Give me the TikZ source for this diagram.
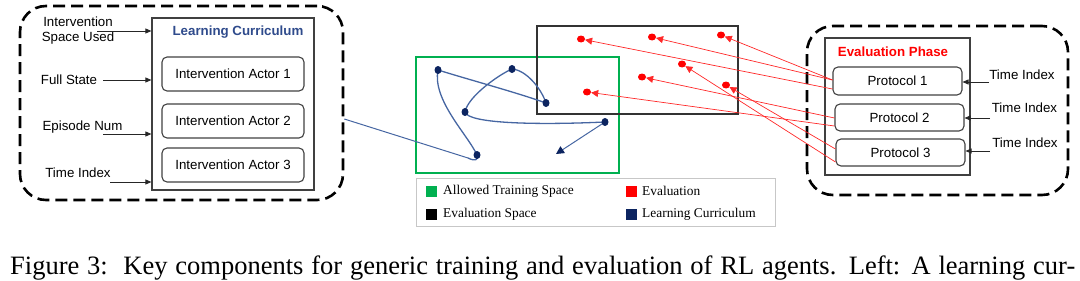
\documentclass[tikz,border=0pt]{standalone}
\usepackage{fontspec}
\setmainfont{Liberation Sans}
\newfontfamily\seriffont{Liberation Serif}
\usetikzlibrary{arrows.meta,shapes.geometric}
\definecolor{curblue}{RGB}{70,102,162}
\definecolor{navy}{RGB}{12,36,96}
\definecolor{titleblue}{RGB}{47,75,140}
\definecolor{trgreen}{RGB}{0,176,80}
\definecolor{evred}{RGB}{255,40,40}
\begin{document}
\begin{tikzpicture}[x=1pt,y=-1pt,
  dashbox/.style={draw=black, line width=2.6pt, dash pattern=on 12pt off 6pt, rounded corners=26pt, inner sep=0pt},
  panel/.style={draw=black!75, line width=1.2pt, inner sep=0pt},
  lab/.style={font=\fontsize{13.3}{15.5}\selectfont, inner sep=0pt},
  actor/.style={draw=black!75, line width=1.1pt, rounded corners=5pt, inner sep=0pt, font=\fontsize{13.3}{15.5}\selectfont},
  inarrow/.style={-{Triangle[length=6pt,width=5pt]}, line width=0.8pt, black!85},
  redarrow/.style={evred, line width=0.7pt, -{Triangle[length=7pt,width=7pt]}},
  reddot/.style={ellipse, fill=red, inner sep=0pt, minimum width=8pt, minimum height=7pt},
  bluedot/.style={ellipse, fill=navy, inner sep=0pt, minimum width=7pt, minimum height=8pt},
  curve/.style={curblue, line width=1.3pt},
  legsq/.style={inner sep=0pt, minimum size=11pt},
  legtxt/.style={anchor=west, inner sep=0pt, font=\seriffont\fontsize{13.4}{15}\selectfont}]
\useasboundingbox (0,0) rectangle (1080,281);

% ---------- left part ----------
\node[dashbox, minimum width=323pt, minimum height=194pt] (lbox) at (181.5,103) {};
\node[panel, minimum width=162pt, minimum height=172pt] (lc) at (233,104) {};
\node[lab, font=\bfseries\fontsize{13.3}{15.5}\selectfont, text=titleblue] (lct) at (238,32) {Learning Curriculum};
\node[actor, minimum width=142pt, minimum height=34pt] (a1) at (233,74) {Intervention Actor 1};
\node[actor, minimum width=142pt, minimum height=34pt] (a2) at (233,121) {Intervention Actor 2};
\node[actor, minimum width=142pt, minimum height=34pt] (a3) at (233,165) {Intervention Actor 3};

\node[lab, align=center] (isu) at (78,30.5) {Intervention\\Space Used};
\node[lab] (fs) at (69,80) {Full State};
\node[lab] (en) at (82.5,127) {Episode Num};
\node[lab] (ti) at (78,173) {Time Index};

\coordinate (s1) at (97,31);
\coordinate (s2) at (103,80);
\coordinate (s3) at (103,134);
\coordinate (s4) at (110,182);
\draw[inarrow] (s1) -- (lc.west |- s1);
\draw[inarrow] (s2) -- (lc.west |- s2);
\draw[inarrow] (s3) -- (lc.west |- s3);
\draw[inarrow] (s4) -- (lc.west |- s4);

% ---------- right part ----------
\node[dashbox, minimum width=261pt, minimum height=169pt] (rbox) at (937.5,110.5) {};
\node[panel, minimum width=145pt, minimum height=137pt] (ev) at (897.5,106.5) {};
\node[lab, font=\bfseries\fontsize{13.3}{15.5}\selectfont, text=red] (evt) at (893,52) {Evaluation Phase};
\node[actor, minimum width=129pt, minimum height=28pt] (pr1) at (897.5,81) {Protocol 1};
\node[actor, minimum width=129pt, minimum height=27pt] (pr2) at (899.5,117.5) {Protocol 2};
\node[actor, minimum width=129pt, minimum height=27pt] (pr3) at (900.5,152.5) {Protocol 3};

\node[lab] (t1) at (1022,75) {Time Index};
\node[lab] (t2) at (1024.5,108) {Time Index};
\node[lab] (t3) at (1025,143) {Time Index};
\coordinate (e1) at (989,82);
\coordinate (e2) at (990,118);
\coordinate (e3) at (990,151);
\draw[inarrow] (e1) -- (pr1.east |- e1);
\draw[inarrow] (e2) -- (pr2.east |- e2);
\draw[inarrow] (e3) -- (pr3.east |- e3);

% ---------- middle ----------
\node[draw=trgreen, line width=1.3pt, inner sep=0pt, minimum width=203pt, minimum height=116pt] (gbox) at (517.5,115) {};
\node[draw=black!80, line width=1.5pt, inner sep=0pt, minimum width=201pt, minimum height=88pt] (bbox) at (637.5,70) {};

% red evaluation points
\node[reddot] (r1) at (581,39) {};
\node[reddot] (r2) at (652,37) {};
\node[reddot] (r3) at (721,35) {};
\node[reddot] (r4) at (682,64) {};
\node[reddot] (r5) at (642,77) {};
\node[reddot] (r6) at (726,85) {};
\node[reddot] (r7) at (587,92) {};
\draw[redarrow] ([yshift=-8pt]pr1.west) -- (r1);
\draw[redarrow] ([yshift=1pt]pr1.west) -- (r2);
\draw[redarrow] ([yshift=1pt]pr1.west) -- (r3);
\draw[redarrow] ([yshift=-0.5pt]pr2.west) -- (r5);
\draw[redarrow] ([yshift=-8.5pt]pr2.west) -- (r7);
\draw[redarrow] ([yshift=3.5pt]pr3.west) -- (r6);
\draw[redarrow] ([yshift=-9.5pt]pr3.west) -- (r4);

% learning curriculum trajectory
\coordinate (b1) at (438,70);
\coordinate (b2) at (512,69);
\coordinate (b3) at (546,103);
\coordinate (b4) at (465,112);
\coordinate (b5) at (605,122);
\coordinate (b6) at (477,155);
\coordinate (bend) at (556,154);
\draw[curblue, line width=1pt] ([yshift=-16pt]lbox.east) -- (468,158);
\draw[curve] (468,158) .. controls (475,161.5) and (479,160) .. (b6)
  .. controls (468,135) and (432,100) .. (b1)
  .. controls (470,80) and (515,92) .. (b3)
  .. controls (541,88) and (526,70) .. (b2)
  .. controls (500,74) and (468,96) .. (b4)
  .. controls (468,124) and (540,125) .. (b5);
\draw[curblue, line width=1pt, -{Triangle[length=8pt,width=8pt,color=navy,fill=navy]}] (b5) -- (bend);
\foreach \p in {b1,b2,b3,b4,b5,b6} \node[bluedot] at (\p) {};

% legend
\node[draw=black!22, line width=1pt, inner sep=0pt, minimum width=359pt, minimum height=48pt] (leg) at (595.5,202) {};
\node[legsq, fill=trgreen] (q1) at (431.5,191) {};
\node[legsq, fill=black] (q2) at (431.5,214) {};
\node[legsq, fill=red] (q3) at (631.2,191) {};
\node[legsq, fill=navy] (q4) at (631.2,214) {};
\node[legtxt] (l1) at (443,191) {Allowed Training Space};
\node[legtxt] (l2) at (443,214) {Evaluation Space};
\node[legtxt] (l3) at (642,191) {Evaluation};
\node[legtxt] (l4) at (642,214) {Learning Curriculum};

% caption
\node[anchor=base west, inner sep=0pt, font=\seriffont\fontsize{26.5}{30}\selectfont] (cap) at (10,274)
  {\makebox[1065pt][s]{Figure 3:\ \ Key components for generic training and evaluation of RL agents. Left: A learning cur-}};
\end{tikzpicture}
\end{document}
